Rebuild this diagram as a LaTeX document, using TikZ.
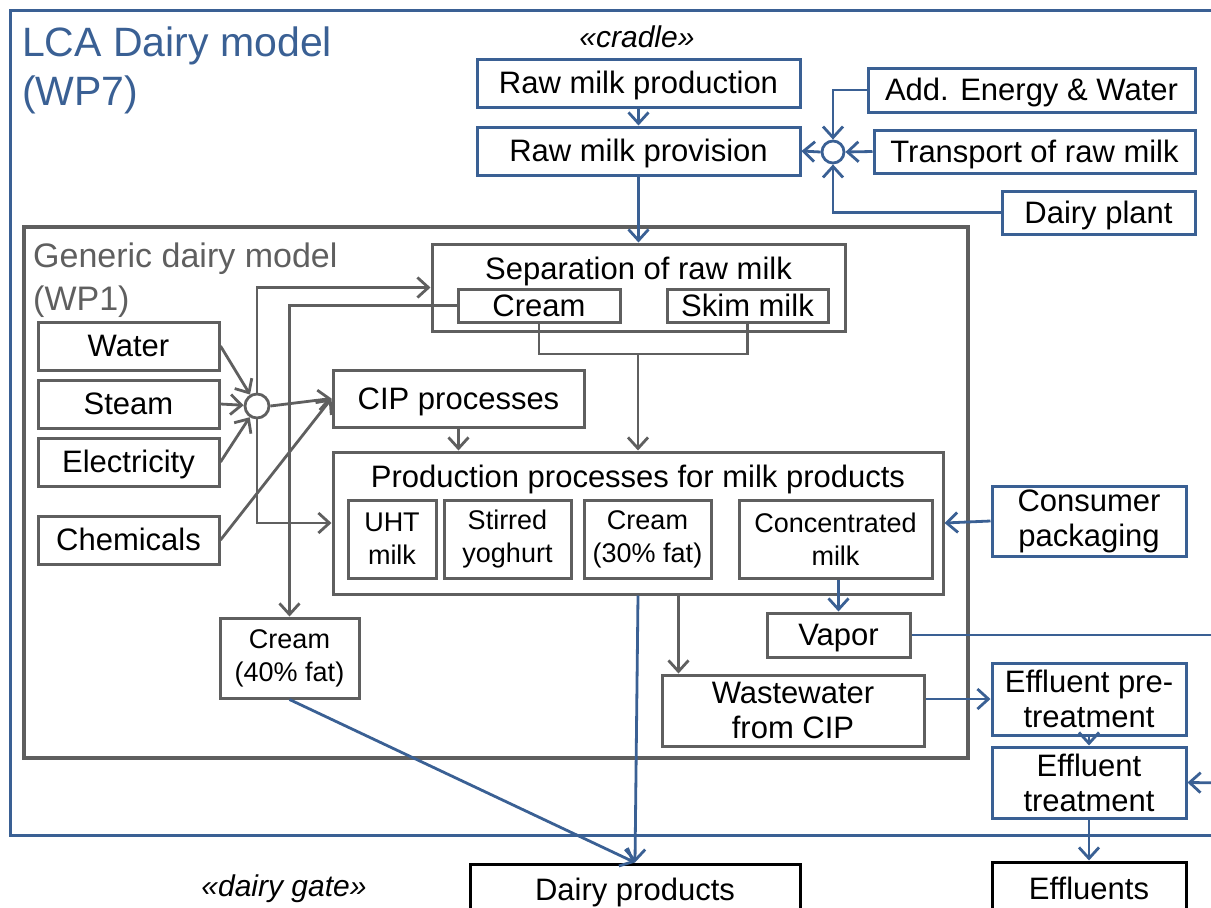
\documentclass[tikz,border=0pt]{standalone}
\usepackage{fontspec}
\setmainfont{Liberation Sans}
\usetikzlibrary{arrows.meta,calc}
\definecolor{lcablue}{RGB}{58,96,148}
\definecolor{lcagray}{RGB}{95,95,95}
\tikzset{
  box/.style={draw, line width=3pt, inner sep=0pt, font=\fontsize{31}{35}\selectfont},
  oneline/.style={text height=22pt, text depth=1pt},
  stack/.style={align=center},
  blubox/.style={box, draw=lcablue},
  grybox/.style={box, draw=lcagray},
  blkbox/.style={box, draw=black},
  subbox/.style={grybox, stack, font=\fontsize{27}{33}\selectfont},
  blulink/.style={->, draw=lcablue, line width=2.8pt},
  grylink/.style={->, draw=lcagray, line width=2.8pt},
  mixer/.style={circle, fill=white, line width=2.8pt, minimum size=23pt, inner sep=0pt},
  >={Straight Barb[length=11pt,width=20pt]}
}
\begin{document}
\begin{tikzpicture}[x=1pt, y=-1pt]
  \useasboundingbox (0,0) rectangle (1211,908);

  % frames
  \node[draw=lcablue, line width=3pt, minimum width=1230pt, minimum height=825pt](lcabox) at (625,422.5) {};
  \node[draw=lcagray, line width=3.5pt, minimum width=944pt, minimum height=531pt](genbox) at (496,492.5) {};
  \node[anchor=north west, inner sep=0pt, align=left, text=lcablue, font=\fontsize{41}{49}\selectfont](lcatitle) at (22,27) {LCA Dairy model\\(WP7)};
  \node[anchor=north west, inner sep=0pt, align=left, text=lcagray, font=\fontsize{34}{43}\selectfont](gentitle) at (33,243) {Generic dairy model\\(WP1)};
  \node[font=\fontsize{30}{36}\selectfont\itshape](cradle) at (637,37) {«cradle»};
  \node[font=\fontsize{30}{36}\selectfont\itshape](gate) at (284,889) {«dairy gate»};

  % cradle side
  \node[blubox, oneline, minimum width=323pt, minimum height=48pt](rmprod) at (638.5,83) {Raw milk production};
  \node[blubox, oneline, minimum width=323pt, minimum height=48pt](rmprov) at (638.5,151) {Raw milk provision};
  \node[blubox, oneline, minimum width=327pt, minimum height=44pt](addE) at (1031.5,90) {Add. Energy \& Water};
  \node[blubox, oneline, minimum width=321pt, minimum height=43pt](transp) at (1034.5,151.5) {Transport of raw milk};
  \node[blubox, oneline, minimum width=193pt, minimum height=43pt](plant) at (1098.5,212.5) {Dairy plant};
  \node[mixer, draw=lcablue, minimum size=22pt](milkmix) at (833,152) {};

  % generic dairy model
  \node[grybox, minimum width=413pt, minimum height=87pt](sep) at (638.5,287.5) {};
  \node[anchor=base, font=\fontsize{31}{35}\selectfont](septitle) at (638.5,279) {Separation of raw milk};
  \node[grybox, oneline, minimum width=162pt, minimum height=33pt](sepcream) at (539,305.5) {Cream};
  \node[grybox, oneline, minimum width=161pt, minimum height=33pt](skim) at (747.5,305.5) {Skim milk};
  \coordinate (join) at (638,354);

  \node[grybox, oneline, minimum width=181pt, minimum height=48pt](water) at (128.5,346) {Water};
  \node[grybox, oneline, minimum width=181pt, minimum height=48pt](steam) at (128.5,404) {Steam};
  \node[grybox, oneline, minimum width=181pt, minimum height=48pt](elec) at (128.5,462) {Electricity};
  \node[grybox, oneline, minimum width=181pt, minimum height=48pt](chem) at (128.5,540) {Chemicals};
  \node[mixer, draw=lcagray, minimum size=24pt](mix) at (257,406) {};

  \node[grybox, oneline, minimum width=251pt, minimum height=57pt](cip) at (458.5,398.5) {CIP processes};
  \node[grybox, minimum width=610pt, minimum height=142pt](prod) at (638,523) {};
  \node[anchor=base, font=\fontsize{31}{35}\selectfont](prodtitle) at (638,487) {Production processes for milk products};
  \node[subbox, minimum width=88pt, minimum height=78pt](uht) at (392,539) {UHT\\milk};
  \node[subbox, minimum width=127pt, minimum height=78pt](stirred) at (507.5,539) {Stirred\\yoghurt};
  \node[subbox, minimum width=127pt, minimum height=78pt](cream30) at (647.5,539) {Cream\\(30\% fat)};
  \node[subbox, minimum width=193pt, minimum height=78pt](conc) at (835.5,539) {Concentrated\\milk};

  \node[subbox, minimum width=139pt, minimum height=80pt](cream40) at (289.5,658) {Cream\\(40\% fat)};
  \node[grybox, oneline, minimum width=143pt, minimum height=44pt](vapor) at (838.5,635) {Vapor};
  \node[grybox, stack, minimum width=262pt, minimum height=71pt](waste) at (793,710.5) {Wastewater\\from CIP};
  \coordinate (wtop) at ([xshift=18pt]waste.north west);

  % right side
  \node[blubox, stack, minimum width=194pt, minimum height=70pt](consumer) at (1089,521) {Consumer\\packaging};
  \node[blubox, stack, minimum width=194pt, minimum height=72pt](effpre) at (1089,699) {Effluent pre-\\treatment};
  \node[blubox, stack, minimum width=194pt, minimum height=71pt](efftr) at (1089,782.5) {Effluent\\treatment};
  \coordinate (vapout) at (1230,635);
  \coordinate (trin) at (1230,783);

  % gate
  \node[blkbox, oneline, minimum width=330pt, minimum height=52pt](dairy) at (635,890) {Dairy products};
  \node[blkbox, oneline, minimum width=194pt, minimum height=54pt](effl) at (1089,889) {Effluents};

  % blue flows
  \draw[blulink] (rmprod.south) -- (rmprov.north);
  \draw[blulink] (rmprov.south) -- (sep.north);
  \draw[blulink] (addE.west) -| (milkmix.north);
  \draw[blulink] (transp.west) -- (milkmix.east);
  \draw[blulink] (plant.west) -| (milkmix.south);
  \draw[blulink] (milkmix.west) -- (rmprov.east);
  \draw[blulink] (consumer.west) -- (prod.east);
  \draw[blulink] (vapor.north |- conc.south) -- (vapor.north);
  \draw[blulink, -] (vapor.east) -- (vapout);
  \draw[blulink] (waste.east |- effpre.west) -- (effpre.west);
  \draw[blulink] (effpre.south) -- (efftr.north);
  \draw[blulink] (trin) -- (efftr.east);
  \draw[blulink] (efftr.south) -- (effl.north);
  \draw[blulink] (cream40.south) -- (dairy.north);
  \draw[blulink] (prod.south) -- (dairy.north);

  % gray flows
  \draw[grylink] (water.east) -- (mix);
  \draw[grylink] (steam.east) -- (mix);
  \draw[grylink] (elec.east) -- (mix);
  \draw[grylink] (chem.east) -- (cip.west);
  \draw[grylink] (mix.east) -- (cip.west);
  \draw[grylink] (mix.north) |- (sep.west);
  \draw[grylink] (mix.south) |- (prod.west);
  \draw[grylink] (sepcream.west) -| (cream40.north);
  \draw[grylink, -] (sepcream.south) |- (join) -| (skim.south);
  \draw[grylink] (join) -- (prod.north);
  \draw[grylink] (cip.south) -- (cip.south |- prod.north);
  \draw[grylink] (prod.south -| wtop) -- (wtop);
\end{tikzpicture}
\end{document}
